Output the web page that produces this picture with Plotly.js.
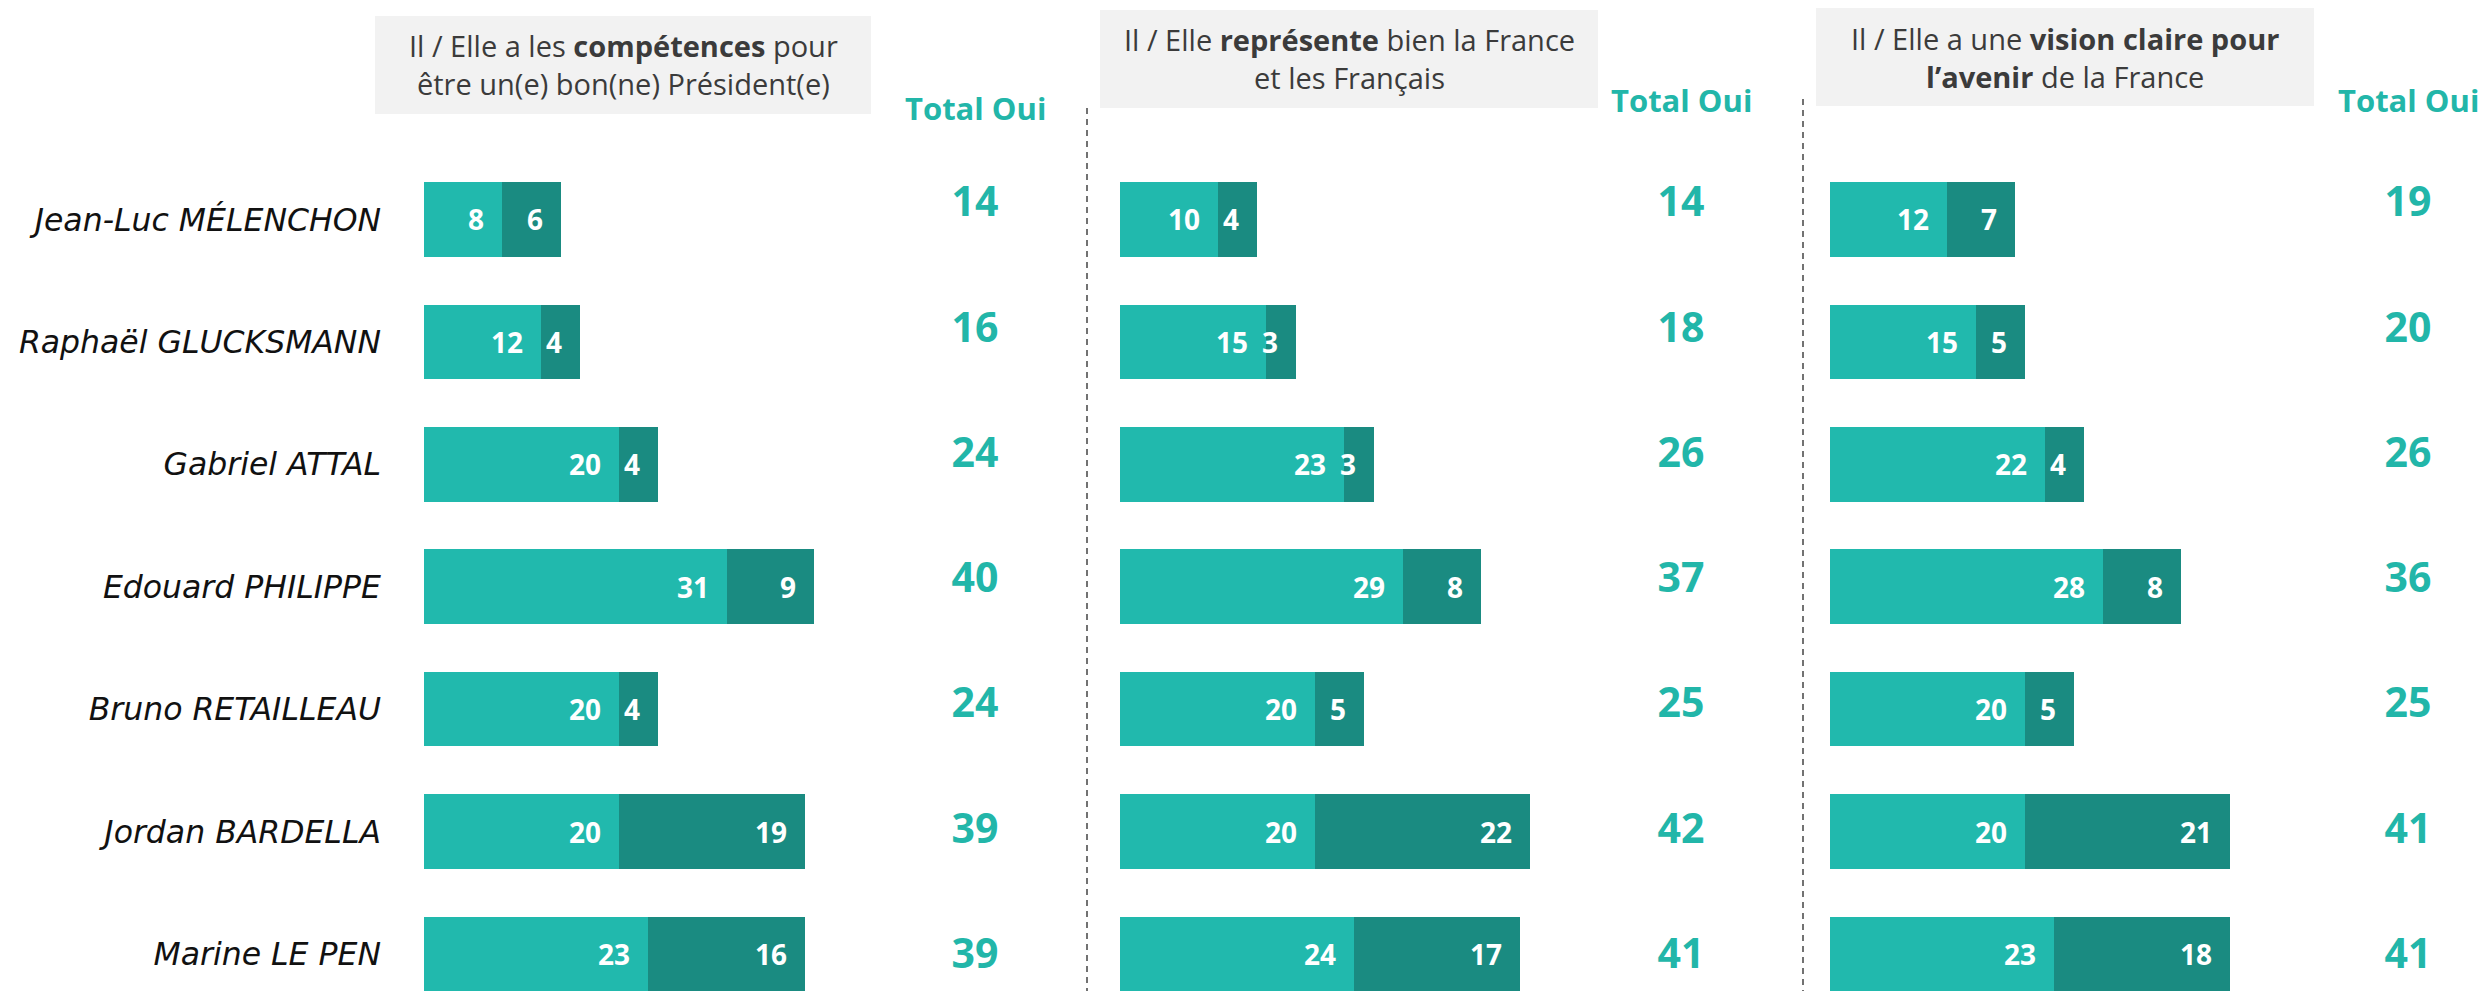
<!DOCTYPE html>
<html>
<head>
<meta charset="utf-8">
<script src="https://cdn.plot.ly/plotly-3.0.1.min.js"></script>
<style>html,body{margin:0;padding:0;background:#fff;}#chart{width:2484px;height:991px;}</style>
</head>
<body>
<div id="chart"></div>
<script>
// ---------- DATA ----------
const candidates = ['Jean-Luc MÉLENCHON','Raphaël GLUCKSMANN','Gabriel ATTAL','Edouard PHILIPPE','Bruno RETAILLEAU','Jordan BARDELLA','Marine LE PEN'];

const competencesOuiTout = [8, 12, 20, 31, 20, 20, 23];
const competencesOuiPlutot = [6, 4, 4, 9, 4, 19, 16];
const competencesTotal = [14, 16, 24, 40, 24, 39, 39];

const representeOuiTout = [10, 15, 23, 29, 20, 20, 24];
const representeOuiPlutot = [4, 3, 3, 8, 5, 22, 17];
const representeTotal = [14, 18, 26, 37, 25, 42, 41];

const visionOuiTout = [12, 15, 22, 28, 20, 20, 23];
const visionOuiPlutot = [7, 5, 4, 8, 5, 21, 18];
const visionTotal = [19, 20, 26, 36, 25, 41, 41];

const panelTitles = [
  'Il / Elle a les <b>compétences</b> pour<br>être un(e) bon(ne) Président(e)',
  'Il / Elle <b>représente</b> bien la France<br>et les Français',
  'Il / Elle a une <b>vision claire pour<br>l’avenir</b> de la France'
];
const totalLabel = 'Total Oui';

// ---------- LAYOUT CONSTANTS ----------
const W = 2484, H = 991;
const UNIT = 9.76, XMAX = 60;
const FONT = 'Open Sans';
const NAME_FONT = 'DejaVu Sans';
const LIGHT = '#21B9AD', DARK = '#1A8B81', TOTAL_COLOR = '#22B6A9';
const panelLeft = [424, 1120, 1830];
const totalCenter = [975, 1681, 2408];
const totalHeadY = [108, 100, 100];
const boxes = [[375, 16, 871, 114], [1100, 10, 1598, 108], [1816, 8, 2314, 106]];
const dividers = [[1087, 108], [1803, 99]];
const LABEL_INSET = -17;

const panels = [
  {a: competencesOuiTout, b: competencesOuiPlutot, t: competencesTotal},
  {a: representeOuiTout, b: representeOuiPlutot, t: representeTotal},
  {a: visionOuiTout, b: visionOuiPlutot, t: visionTotal}
];

const px = x => x / W, py = y => 1 - y / H;
const traces = [];
const layout = {
  width: W, height: H, margin: {l: 0, r: 0, t: 0, b: 0},
  paper_bgcolor: '#fff', plot_bgcolor: 'rgba(0,0,0,0)',
  barmode: 'stack', showlegend: false, hovermode: false,
  font: {family: FONT},
  yaxis: {
    type: 'category', categoryorder: 'array', categoryarray: candidates,
    range: [6.303, -1.793], anchor: 'x', domain: [0, 1],
    showgrid: false, zeroline: false, showline: false, ticks: '',
    ticklabelstandoff: 42,
    tickfont: {family: NAME_FONT, size: 31.5, style: 'italic', color: '#111'}
  },
  yaxis2: {
    type: 'category', categoryorder: 'array', categoryarray: candidates,
    range: [6.265, -1.644], overlaying: 'y', anchor: 'x', visible: false
  },
  shapes: [], annotations: []
};

panels.forEach((p, k) => {
  const xa = k === 0 ? 'x' : 'x' + (k + 1);
  const axName = k === 0 ? 'xaxis' : 'xaxis' + (k + 1);
  layout[axName] = {
    domain: [px(panelLeft[k]), px(panelLeft[k] + XMAX * UNIT)],
    range: [0, XMAX], visible: false, anchor: 'y', fixedrange: true
  };
  [[p.a, LIGHT], [p.b, DARK]].forEach(([vals, col]) => {
    traces.push({
      type: 'bar', orientation: 'h', y: candidates, x: vals,
      xaxis: xa, yaxis: 'y', width: 0.61,
      marker: {color: col, line: {width: 0}},
      hoverinfo: 'skip'
    });
  });
  // segment value labels, placed at the end of each segment
  candidates.forEach((c, i) => {
    [[p.a[i], p.a[i]], [p.b[i], p.a[i] + p.b[i]]].forEach(([v, end]) => {
      layout.annotations.push({
        xref: xa, yref: 'y', x: end, y: c, xanchor: 'right', yanchor: 'middle',
        xshift: LABEL_INSET, showarrow: false, text: String(v), borderpad: 0,
        font: {family: FONT, size: 28, color: '#fff', weight: 700}
      });
    });
  });
  const tx = (totalCenter[k] - panelLeft[k]) / UNIT;
  traces.push({
    type: 'scatter', mode: 'text', xaxis: xa, yaxis: 'y2',
    y: candidates, x: candidates.map(() => tx),
    text: p.t.map(String), textposition: 'middle center', cliponaxis: false,
    textfont: {family: FONT, size: 41, color: TOTAL_COLOR, weight: 700},
    hoverinfo: 'skip'
  });
  const bx = boxes[k];
  layout.shapes.push({
    type: 'rect', xref: 'paper', yref: 'paper', layer: 'below',
    x0: px(bx[0]), x1: px(bx[2]), y0: py(bx[3]), y1: py(bx[1]),
    fillcolor: '#F2F2F2', line: {width: 0}
  });
  layout.annotations.push({
    xref: 'paper', yref: 'paper', x: px((bx[0] + bx[2]) / 2), y: py((bx[1] + bx[3]) / 2),
    xanchor: 'center', yanchor: 'middle', align: 'center', showarrow: false,
    text: panelTitles[k], font: {family: FONT, size: 29, color: '#3B3B3B'}
  });
  layout.annotations.push({
    xref: 'paper', yref: 'paper', x: px(totalCenter[k]), y: py(totalHeadY[k]),
    xanchor: 'center', yanchor: 'middle', showarrow: false,
    text: totalLabel, font: {family: FONT, size: 31, color: TOTAL_COLOR, weight: 700}
  });
});

dividers.forEach(([x, y0]) => {
  layout.shapes.push({
    type: 'line', xref: 'paper', yref: 'paper',
    x0: px(x), x1: px(x), y0: py(y0), y1: 0,
    line: {color: '#444', width: 1.5, dash: '6px,5px'}
  });
});

Plotly.newPlot('chart', traces, layout, {staticPlot: true, displayModeBar: false});
</script>
</body>
</html>
